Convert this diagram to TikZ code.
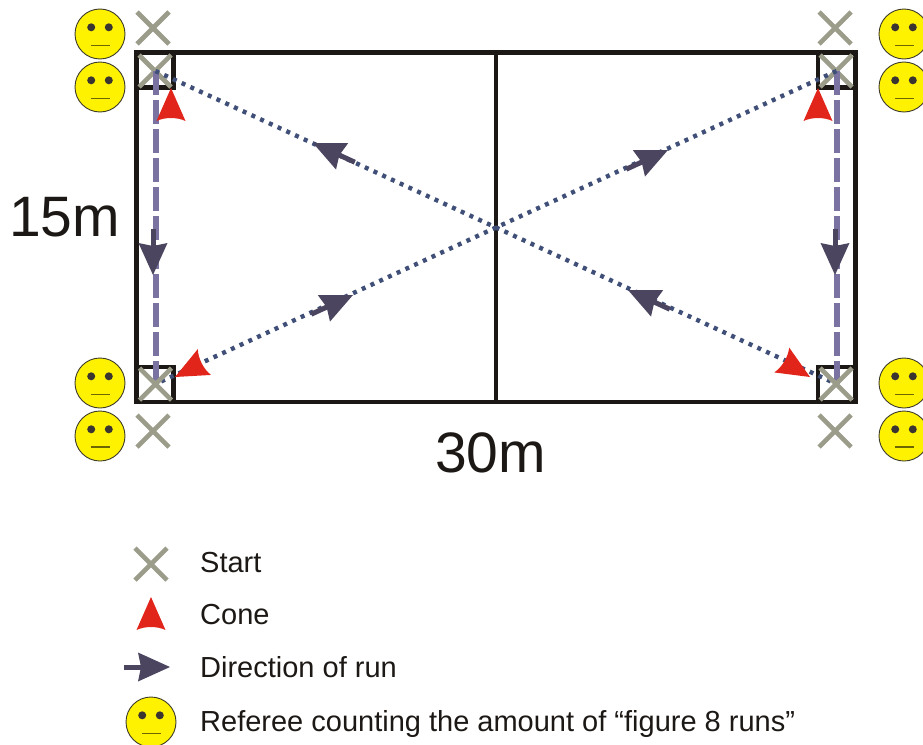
\documentclass[tikz,border=0pt]{standalone}
\usepackage{fontspec}
\setmainfont{Liberation Sans}
\definecolor{inkblack}{HTML}{1C1815}
\definecolor{crossgrey}{HTML}{9C9C8A}
\definecolor{conered}{HTML}{E1251B}
\definecolor{arrowdark}{HTML}{4B4560}
\definecolor{dotblue}{HTML}{3F4F78}
\definecolor{dashpurple}{HTML}{7A72A0}
\definecolor{faceline}{HTML}{3C3A28}
\definecolor{eyedark}{HTML}{3A3530}
\definecolor{mouthol}{HTML}{6E6600}
\tikzset{
  x=1pt,y=-1pt,
  court/.style={draw=inkblack,line width=4.8pt,line cap=rect},
  cornerbox/.style={draw=inkblack,line width=4.6pt,line cap=rect},
  runpath/.style={draw=dotblue,line width=4.4pt,dash pattern=on 4pt off 5.6pt},
  sidepath/.style={draw=dashpurple,line width=6pt,dash pattern=on 24pt off 5pt},
  bigtext/.style={inner sep=0pt,anchor=base west,text=inkblack,font=\fontsize{57}{60}\selectfont},
  legendtext/.style={inner sep=0pt,anchor=base west,text=inkblack,font=\fontsize{29}{32}\selectfont},
  pics/startx/.style={code={
    \draw[crossgrey,line width=4.6pt] (-16,-16) -- (16,16) (-16,16) -- (16,-16);
  }},
  pics/conemark/.style={code={
    \fill[conered] (0,0) -- (-33,14.5) .. controls (-29,6) and (-29,-6) .. (-33,-14.5) -- cycle;
  }},
  pics/runarrow/.style={code={
    \draw[arrowdark,line width=5pt] (-46,0) -- (-25,0);
    \fill[arrowdark] (0,0) -- (-32,14.5) -- (-29,0) -- (-32,-14.5) -- cycle;
  }},
  pics/smiley/.style={code={
    \draw[fill=yellow,draw=faceline,line width=0.9pt] (0,0) circle[radius=25];
    \fill[eyedark] (-8.8,-6.7) circle[radius=4] (8.8,-6.7) circle[radius=4];
    \draw[mouthol,line width=#1] (-9.5,11.3) -- (9.5,11.3);
  }},
  pics/smiley/.default=1pt
}
\begin{document}
\begin{tikzpicture}
\useasboundingbox (0,0) rectangle (923,744);
\clip (0,0) rectangle (923,744);
% anchor points
\coordinate (tl) at (155.5,71);
\coordinate (tr) at (836.5,71);
\coordinate (bl) at (155.5,384);
\coordinate (br) at (836.5,384);
% referees
\pic at (100,34) {smiley};
\pic at (100,87) {smiley=1.5pt};
\pic at (100,383) {smiley};
\pic at (100,436) {smiley=2pt};
\pic at (904,34) {smiley};
\pic at (904,87) {smiley=1.5pt};
\pic at (904,383) {smiley};
\pic at (904,436) {smiley=2pt};
% outer start marks
\pic at (153,28) {startx};
\pic at (835,28) {startx};
\pic at (153,431) {startx};
\pic at (835,431) {startx};
% court
\draw[court] (136.5,52.5) rectangle (855.5,402);
\draw[court,line cap=butt] (496,52.5) -- (496,402);
\draw[cornerbox] (136.5,87.7) -- (173.5,87.7) -- (173.5,52.5);
\draw[cornerbox] (136.5,367) -- (173.5,367) -- (173.5,402);
\draw[cornerbox] (855.5,87.7) -- (818,87.7) -- (818,52.5);
\draw[cornerbox] (855.5,367) -- (818,367) -- (818,402);
% top start marks in boxes
\pic at (155,71) {startx};
\pic at (836,71) {startx};
% run paths
\draw[sidepath] (tl) -- (bl);
\draw[sidepath] (tr) -- (br);
\draw[runpath] (tl) -- (br);
\draw[runpath] (tr) -- (bl);
% bottom start marks in boxes
\pic at (155.5,384) {startx};
\pic at (836,384) {startx};
% direction arrows
\pic[rotate=-90] at (153,275) {runarrow};
\pic[rotate=-90] at (835,275) {runarrow};
\pic[rotate=155.3] at (313,143) {runarrow};
\pic[rotate=24.7] at (668,150) {runarrow};
\pic[rotate=155.3] at (628,290) {runarrow};
\pic[rotate=24.7] at (353,295) {runarrow};
% cones
\pic[rotate=90] at (171,88) {conemark};
\pic[rotate=90] at (818,88) {conemark};
\pic[rotate=207] at (175,377) {conemark};
\pic[rotate=329] at (810,377) {conemark};
% dimensions
\node[bigtext] (widthlabel) at (9,236) {15m};
\node[bigtext] (lengthlabel) at (435,472) {30m};
% legend
\pic at (151,564) {startx};
\node[legendtext] (legstart) at (200,572) {Start};
\pic[rotate=90] at (151,597) {conemark};
\node[legendtext] (legcone) at (200,624) {Cone};
\pic at (170,667) {runarrow};
\node[legendtext] (legrun) at (200,677) {Direction of run};
\pic at (151,722) {smiley};
\node[legendtext] (legref) at (200,731) {Referee counting the amount of “figure 8 runs”};
\end{tikzpicture}
\end{document}
